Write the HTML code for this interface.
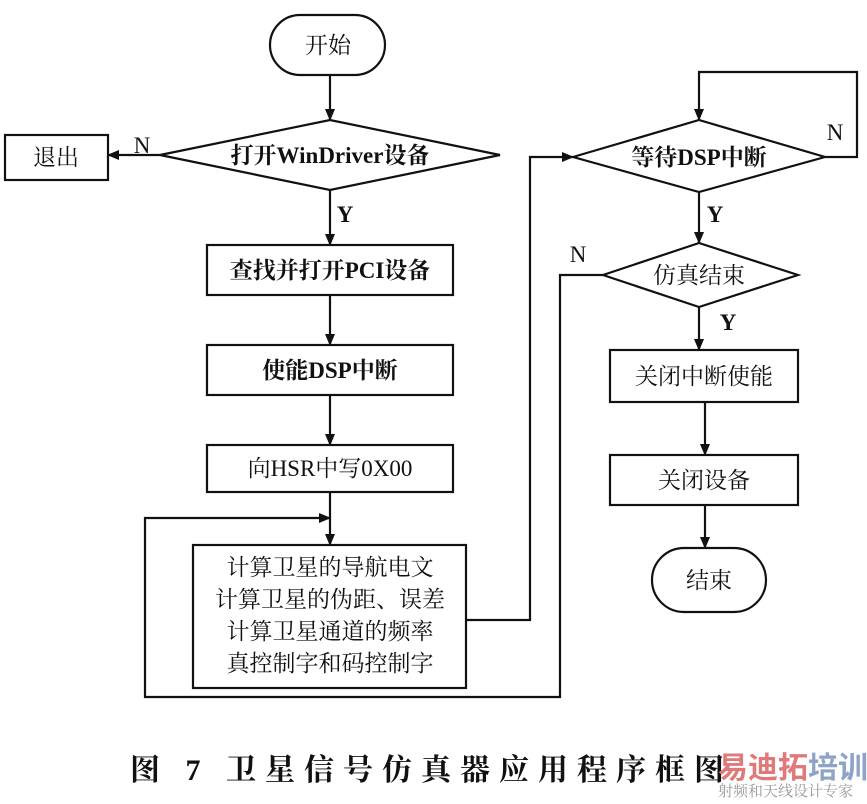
<!DOCTYPE html><html><head><meta charset="utf-8"><style>body{margin:0;background:#fff}svg text{font-family:"Liberation Serif","Noto Serif CJK SC",serif;fill:#111}</style></head><body>
<svg width="867" height="799" viewBox="0 0 867 799" xmlns="http://www.w3.org/2000/svg">
<defs><marker id="a" markerWidth="12" markerHeight="12" refX="11" refY="6" orient="auto" markerUnits="userSpaceOnUse"><path d="M0,1 L12,6 L0,11 Z" fill="#111"/></marker></defs>
<g stroke="#111" stroke-width="2.2" fill="none">
<rect x="270" y="15" width="115" height="60" rx="30"/>
<polygon points="160,155 330,120 500,155 330,190"/>
<rect x="5" y="135" width="103" height="45"/>
<rect x="207" y="245" width="246" height="50"/>
<rect x="207" y="345" width="246" height="50"/>
<rect x="207" y="445" width="246" height="47"/>
<rect x="193" y="545" width="273" height="143"/>
<polygon points="573,157 699,120 825,157 699,192"/>
<polygon points="603,275 699,243 798,275 699,307"/>
<rect x="610" y="350" width="188" height="52"/>
<rect x="610" y="455" width="188" height="50"/>
<rect x="652" y="548" width="114" height="64" rx="32"/>
<line x1="330" y1="75" x2="330" y2="120" marker-end="url(#a)"/>
<line x1="160" y1="155" x2="108" y2="155" marker-end="url(#a)"/>
<line x1="330" y1="190" x2="330" y2="245" marker-end="url(#a)"/>
<line x1="330" y1="295" x2="330" y2="345" marker-end="url(#a)"/>
<line x1="330" y1="395" x2="330" y2="445" marker-end="url(#a)"/>
<line x1="330" y1="492" x2="330" y2="545" marker-end="url(#a)"/>
<polyline points="466,620 530,620 530,157 573,157" marker-end="url(#a)"/>
<polyline points="825,157 857,157 857,72 699,72 699,120" marker-end="url(#a)"/>
<line x1="699" y1="192" x2="699" y2="243" marker-end="url(#a)"/>
<polyline points="603,275 560,275 560,697 145,697 145,518 330,518" marker-end="url(#a)"/>
<line x1="699" y1="307" x2="699" y2="350" marker-end="url(#a)"/>
<line x1="705" y1="402" x2="705" y2="455" marker-end="url(#a)"/>
<line x1="705" y1="505" x2="705" y2="548" marker-end="url(#a)"/>
</g>
<g font-size="23" text-anchor="middle">
<text x="328" y="53">开始</text>
<text x="330" y="163" font-weight="bold">打开WinDriver设备</text>
<text x="56" y="165">退出</text>
<text x="330" y="278" font-weight="bold">查找并打开PCI设备</text>
<text x="330" y="378" font-weight="bold">使能DSP中断</text>
<text x="330" y="476">向HSR中写0X00</text>
<text x="330" y="575">计算卫星的导航电文</text>
<text x="330" y="607">计算卫星的伪距、误差</text>
<text x="330" y="639">计算卫星通道的频率</text>
<text x="330" y="671">真控制字和码控制字</text>
<text x="699" y="165" font-weight="bold">等待DSP中断</text>
<text x="699" y="283">仿真结束</text>
<text x="704" y="384">关闭中断使能</text>
<text x="704" y="488">关闭设备</text>
<text x="709" y="588">结束</text>
<text x="142" y="153">N</text>
<text x="345" y="222" font-weight="bold">Y</text>
<text x="835" y="140">N</text>
<text x="715" y="222" font-weight="bold">Y</text>
<text x="578" y="262">N</text>
<text x="728" y="330" font-weight="bold">Y</text>
</g>
<text x="130" y="780" font-size="30" font-weight="bold" letter-spacing="9">图 7  卫星信号仿真器应用程序框图</text>
<text x="718" y="778" font-size="30" font-weight="bold" style="fill:#e07a7a;font-family:'Noto Sans CJK SC',sans-serif">易迪拓</text>
<text x="808" y="778" font-size="30" font-weight="bold" style="fill:#8fa3c8;font-family:'Noto Sans CJK SC',sans-serif">培训</text>
<text x="718" y="796" font-size="15" style="fill:#999">射频和天线设计专家</text>
</svg></body></html>
